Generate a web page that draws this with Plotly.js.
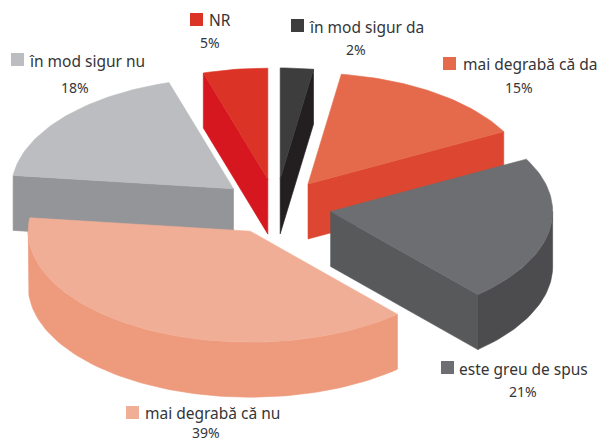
<!DOCTYPE html>
<html><head><meta charset="utf-8">
<script src="https://cdn.plot.ly/plotly-3.0.1.min.js"></script>
<style>html,body{margin:0;padding:0;background:#fff}#c{width:603px;height:441px}</style>
</head><body><div id="c"></div>
<script>
// Data, clockwise from 12 o'clock (slice sizes; labels show them rounded)
const categories = ['în mod sigur da','mai degrabă că da','este greu de spus','mai degrabă că nu','în mod sigur nu','NR'];
const shares = [2.4,14.8,21.3,38.5,18.4,4.7];

// Styling, one entry per category
const topColors  = ['#3d3d3e','#e5694b','#6d6e71','#f1ae96','#bcbdc0','#db3427'];
const cutColors  = ['#231f20','#dd4630','#58595b','#ee9a7c','#939598','#d6171f'];
const wallColors = ['#231f20','#dd4630','#4c4c4e','#ee9a7c','#939598','#d6171f'];
const paintOrder = [0,5,1,4,2,3];

// Projection of the tilted pie onto the page
const cx = 276, cy = 206.6, rx = 222, ry = 111, depth = 55, pull = 0.25;
const rad = d => d * Math.PI / 180;
const total = shares.reduce((a,b)=>a+b,0);

function arc(tip, a0, a1, dy){
  const xs=[], ys=[], n=Math.max(2,Math.ceil((a1-a0)/1.5));
  for(let i=0;i<=n;i++){
    const a=rad(a0+(a1-a0)*i/n);
    xs.push(tip.x+rx*Math.sin(a));
    ys.push(tip.y-ry*Math.cos(a)+dy);
  }
  return {xs,ys};
}
function face(xs,ys,color){
  return {type:'scatter',mode:'lines',x:xs.concat(xs[0]),y:ys.concat(ys[0]),fill:'toself',
    fillcolor:color,line:{color:color,width:0.6},hoverinfo:'skip',showlegend:false};
}
const sliceTraces={};
let acc=0;
shares.forEach((v,i)=>{
  const a0=acc/total*360, a1=(acc+v)/total*360; acc+=v;
  const mid=rad((a0+a1)/2);
  const tip={x:cx+pull*rx*Math.sin(mid), y:cy-pull*ry*Math.cos(mid)};
  const tr=[];
  const cutFace=a=>{
    const p=arc(tip,a,a,0);
    return face([tip.x,p.xs[0],p.xs[0],tip.x],[tip.y,p.ys[0],p.ys[0]+depth,tip.y+depth],cutColors[i]);
  };
  if(a1<180) tr.push(cutFace(a1));
  if(a0>180) tr.push(cutFace(a0));
  const w0=Math.max(a0,90), w1=Math.min(a1,270);
  if(w1>w0){
    const t=arc(tip,w0,w1,0), b=arc(tip,w0,w1,depth);
    tr.push(face(t.xs.concat(b.xs.slice().reverse()),t.ys.concat(b.ys.slice().reverse()),wallColors[i]));
  }
  const t=arc(tip,a0,a1,0);
  tr.push(face([tip.x].concat(t.xs),[tip.y].concat(t.ys),topColors[i]));
  sliceTraces[i]=tr;
});
const traces=[];
paintOrder.forEach(i=>traces.push(...sliceTraces[i]));

// Labels: swatch centre, name left edge, percent centre
const swatchX=[297.5,449.5,447.5,132.5,17.5,196.5];
const swatchY=[25.5,63.5,367.5,412.5,59.5,19.5];
const nameX=[307,461,457,143,27,207];
const nameY=[27,64,369,413,61,20];
const pctX=[356,519,523,206,75,210];
const pctY=[49,87,391,432,87,42];

traces.push({type:'scatter',mode:'markers',x:swatchX,y:swatchY,hoverinfo:'skip',showlegend:false,
  marker:{symbol:'square',size:13,color:topColors,line:{width:0}}});

const font={family:'"Noto Sans", "Open Sans", sans-serif',size:15.5,color:'#353537'};
const annotations=[];
categories.forEach((c,i)=>{
  annotations.push({x:nameX[i],y:nameY[i],xref:'x',yref:'y',text:c,showarrow:false,xanchor:'left',yanchor:'middle',font});
  annotations.push({x:pctX[i],y:pctY[i],xref:'x',yref:'y',text:Math.round(shares[i])+'%',showarrow:false,xanchor:'center',yanchor:'middle',font:{...font,size:14}});
});

Plotly.newPlot('c',traces,{
  width:603,height:441,margin:{l:0,r:0,t:0,b:0},paper_bgcolor:'#fff',plot_bgcolor:'#fff',showlegend:false,
  xaxis:{range:[0,603],visible:false,fixedrange:true},
  yaxis:{range:[441,0],visible:false,fixedrange:true},
  annotations
},{displayModeBar:false,staticPlot:true});
</script></body></html>
